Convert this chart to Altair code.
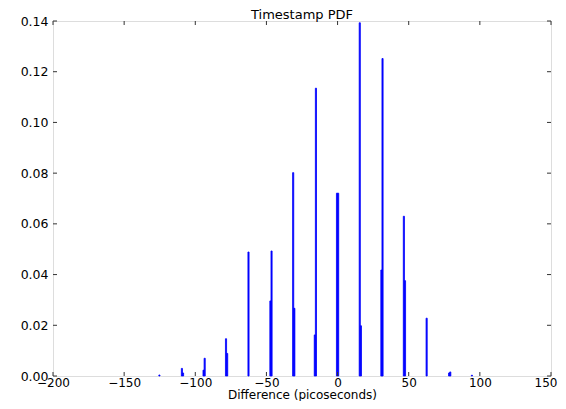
import altair as alt
import pandas as pd

# PDF histogram bins (start of bin, ps) and density
bin_start = [-125.6, -109.8, -109.0, -94.6, -93.8, -78.8, -78.0, -63.0,
             -47.6, -46.8, -31.6, -30.8, -16.4, -15.6, -0.8, 0.0,
             15.2, 16.0, 30.4, 31.2, 46.2, 47.0, 62.2, 78.0, 78.8, 94.0]
density = [0.0004, 0.0030, 0.0012, 0.0023, 0.0070, 0.0147, 0.0089, 0.0489,
           0.0296, 0.0493, 0.0802, 0.0267, 0.0162, 0.1135, 0.0721, 0.0721,
           0.1393, 0.0198, 0.0418, 0.1252, 0.0630, 0.0376, 0.0228, 0.0012, 0.0016, 0.0003]
bin_width = 0.8

x_ticks = [-200, -150, -100, -50, 0, 50, 100, 150]
y_ticks = [0.0, 0.02, 0.04, 0.06, 0.08, 0.10, 0.12, 0.14]

W, H = 498, 355
FONT = "DejaVu Sans"

df = pd.DataFrame({"start": bin_start, "density": density})
df["end"] = df["start"] + bin_width
df["base"] = 0.0

xscale = alt.Scale(domain=[-200, 150], nice=False, zero=False)
yscale = alt.Scale(domain=[0, 0.14], nice=False)

x_axis = alt.Axis(values=x_ticks, format="d", grid=False, ticks=False, domain=False,
                  labelPadding=1, labelFontSize=12, labelFont=FONT, labelColor="black",
                  labelAlign=alt.expr("datum.value == 150 ? 'right' : 'center'"),
                  labelOffset=alt.expr("datum.value == 150 ? 6 : 0"),
                  title="Difference (picoseconds)", titleFont=FONT, titleFontSize=12,
                  titleFontWeight="normal", titleColor="black",
                  titleBaseline="alphabetic", titleY=22,
                  labelFlush=False, labelOverlap=False)
y_axis = alt.Axis(values=y_ticks, format=".2f", grid=False, ticks=False, domain=False,
                  labelPadding=5, labelFontSize=12.5, labelFont=FONT, labelColor="black",
                  title=None, labelFlush=False, labelOverlap=False)

bars = alt.Chart(df).mark_bar(color="#0000ff", stroke="#0000ff", strokeWidth=0.8).encode(
    x=alt.X("start:Q", scale=xscale, axis=x_axis),
    x2="end:Q",
    y=alt.Y("density:Q", scale=yscale, axis=y_axis),
    y2="base:Q",
)

xt = pd.DataFrame({"start": x_ticks})
yt = pd.DataFrame({"density": y_ticks})
tick_style = dict(color="#333333", strokeWidth=1)

xt_bottom = alt.Chart(xt).mark_rule(**tick_style).encode(
    x=alt.X("start:Q", scale=xscale, axis=x_axis), y=alt.value(H), y2=alt.value(H - 4))
xt_top = alt.Chart(xt).mark_rule(**tick_style).encode(
    x=alt.X("start:Q", scale=xscale, axis=x_axis), y=alt.value(0), y2=alt.value(4))
yt_left = alt.Chart(yt).mark_rule(**tick_style).encode(
    y=alt.Y("density:Q", scale=yscale, axis=y_axis), x=alt.value(0), x2=alt.value(4))
yt_right = alt.Chart(yt).mark_rule(**tick_style).encode(
    y=alt.Y("density:Q", scale=yscale, axis=y_axis), x=alt.value(W), x2=alt.value(W - 4))

chart = alt.layer(bars, xt_bottom, xt_top, yt_left, yt_right).properties(
    width=W, height=H,
    title=alt.TitleParams("Timestamp PDF", font=FONT, fontSize=13, fontWeight="normal",
                          color="black", offset=3, dy=9.5, anchor="middle", frame="group"),
    autosize=alt.AutoSizeParams(type="none"),
    padding={"left": 45, "top": 13, "right": 7, "bottom": 25},
).configure_view(stroke="#333333", strokeWidth=1.5).configure(background="white")

chart.save("out.html", embed_options={"renderer": "svg", "actions": False})
